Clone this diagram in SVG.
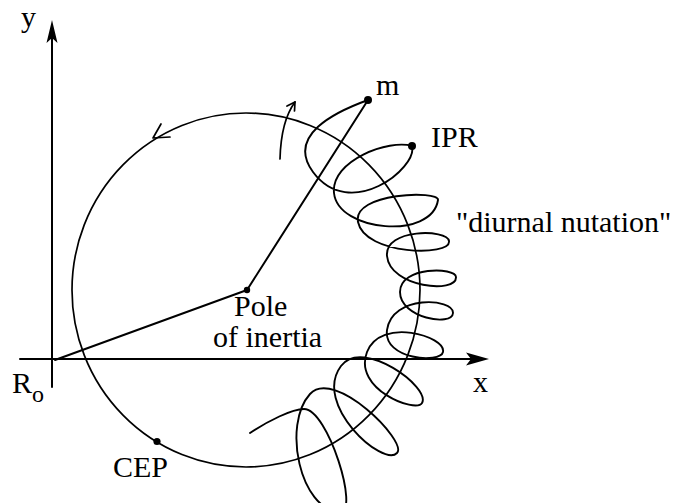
<svg xmlns="http://www.w3.org/2000/svg" width="696" height="503" viewBox="0 0 696 503">
<style>
.ln{fill:none;stroke:#000;stroke-linecap:round;stroke-linejoin:round}
.ax{stroke-width:2}
.thin{stroke-width:1.7}
.lbl{font-family:"Liberation Serif","Times New Roman",serif;font-size:30px;fill:#000}
.dot{fill:#000}
</style>
<rect width="696" height="503" fill="#fff"/>
<g id="axes">
  <line class="ln ax" x1="52" y1="387" x2="52" y2="38"/>
  <path d="M52,20 L57.5,43 L52,38 L46.5,43 Z" fill="#000"/>
  <line class="ln ax" x1="20" y1="359" x2="472" y2="359"/>
  <path d="M489,359 L466,365.5 L471,359 L466,352.5 Z" fill="#000"/>
</g>
<g id="circle">
  <ellipse class="ln thin" cx="246" cy="290" rx="174" ry="177"/>
  <polyline class="ln thin" points="161,124 153,138 170,137"/>
</g>
<g id="rotation-arrow">
  <path class="ln thin" d="M280,159 Q281,121 295,102"/>
  <polyline class="ln thin" points="287,106 295,102 294.5,111"/>
</g>
<g id="connectors">
  <line class="ln ax" x1="55" y1="360" x2="247" y2="290"/>
  <line class="ln ax" x1="247" y1="290" x2="368" y2="100"/>
</g>
<g id="nutation-curve">
  <path class="ln" stroke-width="1.9" d="M368,100 C335,112 286,135.5 313,172 C350,222 418,168 412,146 C389.4,138.9 330.7,160.2 334,193 C338,232 432,240 438,200 C439.5,190.1 352,192.6 358,222 C364.8,255.3 451.2,256.8 449,241 C447.3,229.1 384.3,228.1 387,256 C390.1,287.8 456.9,294 456,277 C455.5,267 400,266 400,292 C400,318 452.3,327 453,313 C453.8,298 391.7,294.3 387,330 C383.1,359.7 440.5,363.7 443,352 C446.3,336.4 380.6,316.5 367,352 C352.7,389.4 416,413.4 422,403 C431,387.4 362.7,337.2 341,366 C312.1,404.4 383.1,467.4 397,453 C408.1,441.5 334.1,367.4 310,394 C282,425 300,510 340,512 C360,513 328,409 304,409 C292,409 268,421 250,433"/>
</g>
<g id="node-y"><text class="lbl" x="21" y="27">y</text></g>
<g id="node-x"><text class="lbl" x="473" y="392">x</text></g>
<g id="node-Ro"><text class="lbl" x="12" y="393">R<tspan font-size="24" dy="9">o</tspan></text></g>
<g id="node-m"><circle class="dot" cx="368" cy="100" r="4"/><text class="lbl" x="376" y="95">m</text></g>
<g id="node-IPR"><circle class="dot" cx="412" cy="146" r="4"/><text class="lbl" x="431" y="147">IPR</text></g>
<g id="node-diurnal"><text class="lbl" x="456" y="232">"diurnal nutation"</text></g>
<g id="node-pole"><circle class="dot" cx="247" cy="290" r="3.2"/><text class="lbl" font-size="27"><tspan x="234" y="316">Pole</tspan><tspan x="213" y="347">of inertia</tspan></text></g>
<g id="node-CEP"><circle class="dot" cx="157" cy="441.5" r="3.6"/><text class="lbl" x="113" y="477">CEP</text></g>
</svg>
